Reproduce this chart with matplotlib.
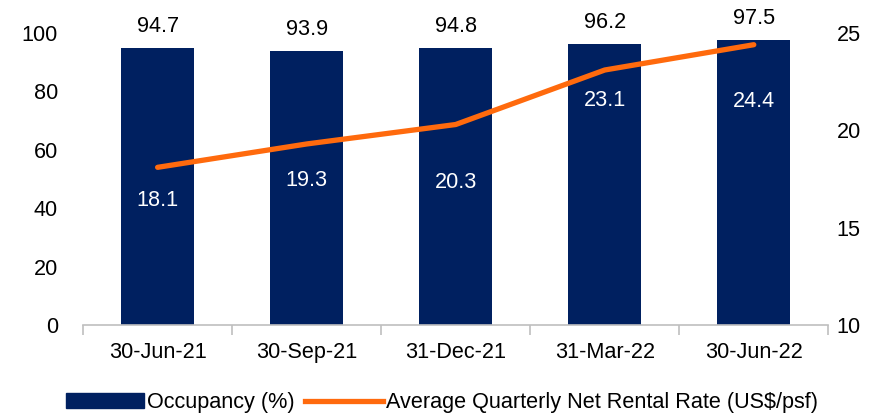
import matplotlib

matplotlib.use("Agg")
import matplotlib.pyplot as plt
from matplotlib.ticker import FixedLocator, NullFormatter

plt.rcParams["font.family"] = ["Liberation Sans", "DejaVu Sans"]

# ── 데이터 ──
quarters = ["30-Jun-21", "30-Sep-21", "31-Dec-21", "31-Mar-22", "30-Jun-22"]
occupancy = [94.7, 93.9, 94.8, 96.2, 97.5]
rental_rate = [18.1, 19.3, 20.3, 23.1, 24.4]

NAVY = "#002060"
ORANGE = "#FF6A0D"
GREY = "#BFBFBF"
FS = 15.6

fig = plt.figure(figsize=(8.84, 4.18), dpi=100)
ax = fig.add_axes([0.094, 0.2225, 0.843, 0.6985])
ax2 = ax.twinx()

xs = list(range(len(quarters)))
ax.bar(xs, occupancy, width=0.49, color=NAVY, zorder=2)
for x, v in zip(xs, occupancy):
    ax.annotate(f"{v:.1f}", (x, v), xytext=(0, 8), textcoords="offset points",
                ha="center", va="bottom", fontsize=FS, color="black")

ax2.plot(xs, rental_rate, color=ORANGE, linewidth=3.8, solid_capstyle="round", zorder=3)
# 라벨 오프셋 (원본 배치 근사)
label_dy = [-24, -26, -42, -22, -41]
for x, v, dy in zip(xs, rental_rate, label_dy):
    ax2.annotate(f"{v:.1f}", (x, v), xytext=(0, dy), textcoords="offset points",
                 ha="center", va="center", fontsize=FS, color="white")

ax.set_xlim(-0.5, len(quarters) - 0.5)
ax.set_ylim(0, 100)
ax2.set_ylim(10, 25)
ax.set_yticks(range(0, 101, 20))
ax2.set_yticks([10, 15, 20, 25])

for a in (ax, ax2):
    for s in ("top", "left", "right", "bottom"):
        a.spines[s].set_visible(False)
ax.tick_params(axis="y", length=0, labelsize=FS, pad=18)
ax2.tick_params(axis="y", length=0, labelsize=FS, pad=6)
ax.spines["bottom"].set_visible(True)
ax.spines["bottom"].set_color(GREY)
ax.spines["bottom"].set_linewidth(1.2)

ax.set_xticks(xs)
ax.set_xticklabels(quarters, fontsize=FS)
ax.tick_params(axis="x", which="major", length=0, pad=12)
ax.xaxis.set_minor_locator(FixedLocator([i - 0.5 for i in range(len(quarters) + 1)]))
ax.xaxis.set_minor_formatter(NullFormatter())
ax.tick_params(axis="x", which="minor", length=7, color=GREY, width=1.2)

handles = [
    plt.Rectangle((0, 0), 1, 1, color=NAVY),
    plt.Line2D([0], [0], color=ORANGE, linewidth=3.8),
]
fig.legend(handles, ["Occupancy (%)", "Average Quarterly Net Rental Rate (US$/psf)"],
           loc="lower center", bbox_to_anchor=(0.5, -0.035), ncol=2, frameon=False,
           fontsize=FS, handlelength=3.6, handletextpad=0.15, columnspacing=0.5)

fig.savefig("out.png", dpi=100)
